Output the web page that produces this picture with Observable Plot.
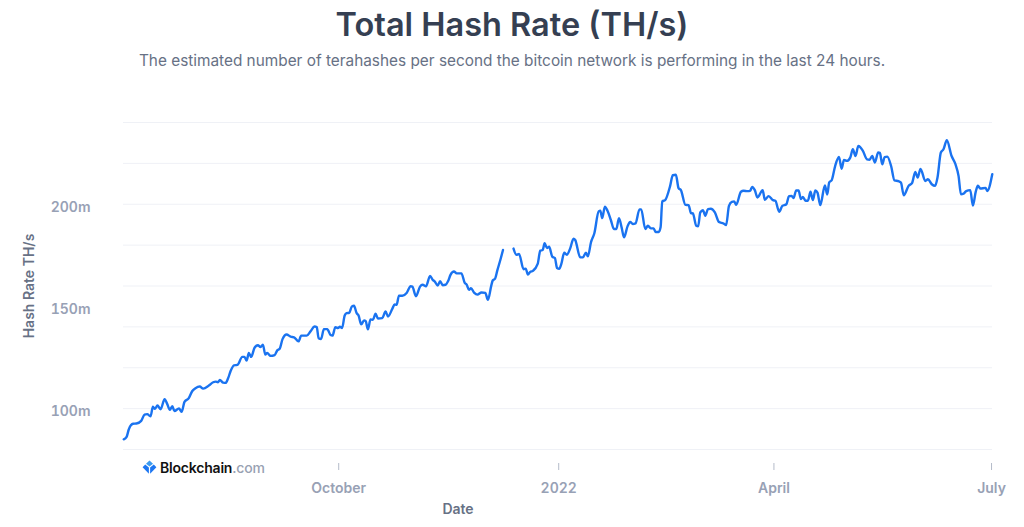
<!DOCTYPE html>
<html>
<head>
<meta charset="utf-8">
<script src="https://cdn.jsdelivr.net/npm/d3@7"></script>
<script src="https://cdn.jsdelivr.net/npm/@observablehq/plot@0.6"></script>
<style>
html,body{margin:0;padding:0;background:#fff;width:1024px;height:527px;overflow:hidden;font-family:Inter,"Noto Sans",sans-serif;}
#wrap{position:relative;width:1024px;height:527px;}
#title{position:absolute;left:0;top:5px;width:1024px;text-align:center;font-size:32.5px;line-height:40px;font-weight:600;color:#353f52;}
#sub{position:absolute;left:0;top:51px;width:1024px;text-align:center;font-size:15.37px;line-height:20px;font-weight:400;color:#677185;}
#plot{position:absolute;left:0;top:90px;}
#plot svg{display:block;}
#logo{position:absolute;left:142px;top:458px;height:18px;display:flex;align-items:center;font-size:14px;font-weight:600;letter-spacing:-0.2px;color:#111;}
#logo span{color:#98a1b2;font-weight:500;}
#logo svg{margin-right:3px;}
</style>
</head>
<body>
<div id="wrap">
<div id="title">Total Hash Rate (TH/s)</div>
<div id="sub">The estimated number of terahashes per second the bitcoin network is performing in the last 24 hours.</div>
<div id="plot"></div>
<div id="logo"><svg width="15" height="15" viewBox="0 0 15 15"><path d="M7.5 0.5L11 3.7L7.5 6.6L4 3.7Z" fill="#3c9bf0"/><path d="M3.2 4.4L6.9 7.5L6.9 13.8L0.6 7.2Z" fill="#1c76f2"/><path d="M11.8 4.4L8.1 7.5L8.1 13.8L14.4 7.2Z" fill="#1c76f2"/></svg>Blockchain<span>.com</span></div>
</div>
<script>
const startDate = Date.UTC(2021, 6, 3);
const days = [0.1,1.3,2.2,4,5.4,7.4,8.8,9.9,11.3,12.3,13.1,14.2,15.5,17.2,18.3,19.4,20.4,21.3,23.2,24.3,25.5,27.3,28.7,30.1,31.9,33.3,35.7,37.5,38.6,39.5,40.3,41.7,42.7,43.7,44.8,46.2,47.6,49.7,50.6,51.5,52.4,53.4,54.8,56.2,57.3,58.3,59.3,60.1,61.5,63.2,64.3,65.3,66.5,68.2,69.9,71.3,73.2,74.3,76.6,78.2,79.9,80.8,81.6,82.6,83.8,85.2,86.6,87.4,88.6,89.7,90.5,91.4,92.5,93.3,94.4,95.5,96.4,97.5,98.3,99.4,100.6,101.3,102.2,103.3,104.3,105.4,106.4,108.2,109.6,110.6,112.4,113.4,114.2,115.2,116.6,118.4,120.1,120.8,122.3,124,125.1,126.5,128.2,129.3,130.1,131.4,132.4,133.5,134.7,135.7,136.8,138.2,139.3,141.3,142.7,143.5,144.5,145.3,146.6,148,149.7,151.3,152.4,153.8,154.4,155.4,156.3,157.7,158.7,
160.5,
163.1,164.3,165.4,167.3,168.2,169.1,170.1,171.2,173.2,174.3,175.3,176.1,177.1,178,179.3,180.4,181.3,182.2,183.1,184.3,185.4,186.8,188.2,188.9,191,192.1,193.4,194.2,195.5,196.9,198.7,199.4,200.2,201.3,202.4,203.8,205.1,206.1,207.2,208.3,209.3,210.8,211.9,213,214.1,215.8,216.5,218.2,219.3,220.5,221.7,222.5,223.8,224.6,225.3,226.5,228.6,229.7,231,232.1,233.1,235,236.3,237.3,238.1,239.5,240.3,241.2,242.3,243.3,244.4,245.6,247.3,249,250.9,252,253.2,254.4,255.4,256.2,258.2,259.3,261,262.1,262.9,264,265.1,
267.3,268.2,269.8,271.6,272.6,274.2,275.5,277.2,278.3,279.4,280.2,281.3,282.3,283.3,284.1,285.2,286.2,287.3,288.3,289.3,290.2,291.4,293.3,294.3,295.1,296.2,297.6,299.2,300.3,301.3,302.5,303.9,305,306.1,307.3,309.2,310.9,312,313.1,314.2,315.6,316.3,317.3,318.3,319.4,321,322.4,324.1,325.1,326.3,328.3,329.8,331.1,332.1,333.3,335.3,336.4,338,339.4,340.4,341.8,342.9,344.3,346.3,347.9,349.2,350.2,351.3,352.4,354.1,355.2,356.4,357.3,358.3,360.5,361.2,363.3];
const hashRate = [85,86.2,89.8,92.6,92.7,94,97.1,97.3,96.2,100.9,99.9,101.5,99.7,104.6,102.2,99.4,101.2,98.8,100.1,98.4,103.3,105.1,108.5,110,110.8,109.8,111.3,112.9,113.2,112.9,114,112.7,112.6,114.7,118.4,121.2,121.4,125.3,125.3,123.5,127.2,125.3,129.8,131,130.1,131.3,126.4,127.2,125.8,126.2,128.5,129.3,134,136.3,135.2,134.9,132.9,135.7,135.7,137.8,140.2,139.9,134.4,134,138.9,138.9,136,135.7,139.9,139.4,140.1,139.4,145.6,146.7,146.9,150,150.3,146.7,145.6,141.2,143.2,142.8,138.8,143.6,143.5,146.4,144.1,144.3,147.5,145.1,148.8,151,150.8,155.3,155.2,156.6,159.9,159.7,155,159.7,160.6,159.9,164.9,163,162.3,160.2,162.3,160.4,160.6,162.3,165.6,167.1,166.2,166.2,161.5,160.7,158.1,158.9,156.8,155.8,156.8,156.6,153.2,160.2,162.7,163.6,167.5,173.2,177.6,
null,
178.3,175.3,175.7,168.2,168.5,165.6,166.9,167.4,170.8,177.3,177.6,180.9,178.6,179.2,174.4,173.7,168.8,168.4,170.8,176.3,175.3,178.4,183.2,182.5,174,174,176.3,174.5,181.4,185.8,196.5,196.8,193.2,198.8,196.8,192.3,187.9,187.9,193.2,188.7,183.8,189.3,191.3,190.3,190.6,197.5,197.5,187.9,189.5,188.2,188.2,186.4,186.4,188.7,201.4,202,209,214.2,214.4,207.9,206.9,199.7,199.6,195.7,195.5,189.5,189.2,196,197.1,194.4,197.6,197.8,196,191.3,190.6,189.8,199.2,201.2,201.4,199.7,206.1,206.6,206.4,206.7,208.5,206.9,203.3,
206.9,202.2,204,202,201.7,196.3,199.2,200,204,204.1,203,206.7,206.7,202.5,203.6,201.7,201.7,206.1,202,206.7,205.7,199.6,209.2,204.8,210.6,211.9,218.7,223.1,217.4,221.7,221.2,222.8,226.9,223.6,228.5,226.1,222,221.8,223.6,220.4,225.3,225.1,219.6,223.1,223.3,218.7,211.7,211.3,210.6,204.4,209,210.5,215.8,213.1,217.3,211.4,212.2,209.8,209,213.1,225.3,226.9,231.3,223.6,219.6,213.9,204.9,205.2,206.4,206.9,199.4,206.2,209.1,207.7,208,206.5,214.7];
const gridValues = [80,100,120,140,160,180,200,220,240];
const yTickValues = [100,150,200];
const xTickDates = [new Date(Date.UTC(2021,9,1)), new Date(Date.UTC(2022,0,1)), new Date(Date.UTC(2022,3,1)), new Date(Date.UTC(2022,6,1))];
const xTickLabels = ["October","2022","April","July"];
const table = days.map((d,i)=>({date:new Date(startDate + d*864e5), value:hashRate[i]}));
const axisColor = "#98a1b5";
const chart = Plot.plot({
  width:1024, height:437,
  marginLeft:123, marginRight:32, marginTop:32, marginBottom:64,
  style:{fontFamily:"Inter, 'Noto Sans', sans-serif", background:"transparent"},
  x:{type:"utc", domain:[new Date(startDate), new Date(startDate + 363.4*864e5)], range:[123,992]},
  y:{domain:[80,240], range:[359,32]},
  marks:[
    Plot.ruleY(gridValues,{stroke:"#eff1f6", strokeWidth:1}),
    Plot.line(table,{x:"date", y:"value", stroke:"#1a73f0", strokeWidth:2.4, curve:"monotone-x"}),
    Plot.axisY({ticks:yTickValues, tickSize:0, tickPadding:33, label:null, tickFormat:d=>d+"m", fill:axisColor, stroke:"none", fontSize:14, fontWeight:600, dy:3}),
    Plot.axisX({ticks:xTickDates, tickSize:7, tickPadding:13, label:null, tickFormat:(d,i)=>xTickLabels[i], color:axisColor, fontSize:14, fontWeight:600, stroke:"#b4bbc9"}),
    Plot.text(["Hash Rate TH/s"],{frameAnchor:"left", textAnchor:"middle", rotate:-90, dx:-94, dy:-7, fill:"#677185", fontSize:14, fontWeight:600}),
    Plot.text(["Date"],{frameAnchor:"bottom", dx:-100, dy:50, fill:"#677185", fontSize:14, fontWeight:600})
  ]
});
document.getElementById("plot").appendChild(chart);
</script>
</body>
</html>
